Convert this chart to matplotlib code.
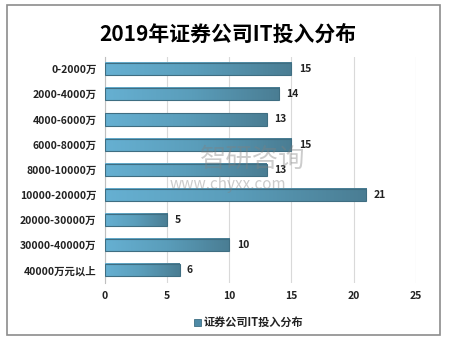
import matplotlib.pyplot as plt
import numpy as np
from matplotlib.patches import Rectangle
from matplotlib.colors import LinearSegmentedColormap

plt.rcParams['font.family'] = ['Noto Sans CJK SC', 'DejaVu Sans']

categories = ['0-2000万', '2000-4000万', '4000-6000万', '6000-8000万', '8000-10000万',
              '10000-20000万', '20000-30000万', '30000-40000万', '40000万元以上']
values = [15, 14, 13, 15, 13, 21, 5, 10, 6]
xticks = [0, 5, 10, 15, 20, 25]

fig = plt.figure(figsize=(4.56, 3.43), dpi=100)
fig.patches.append(Rectangle((7 / 456, 8 / 343), 433 / 456, 330 / 343, transform=fig.transFigure,
                             fill=False, edgecolor='#8c8c8c', linewidth=1.2))
ax = fig.add_axes([0.230, 0.175, 0.682, 0.66])

cmap = LinearSegmentedColormap.from_list('bar', ['#66b0d2', '#5a9dba', '#4a7d93'])
grad = np.linspace(0, 1, 256).reshape(1, -1)
h = 0.48
y = np.arange(len(categories))
for yi, v in zip(y, values):
    ax.imshow(grad, cmap=cmap, aspect='auto', extent=(0, v, yi + h / 2, yi - h / 2), zorder=3)
    ax.add_patch(Rectangle((0, yi - h / 2), v, h, fill=False, edgecolor='#3f6e82', linewidth=0.8, zorder=4))
    ax.text(v + 0.6, yi, str(v), va='center', ha='left', fontsize=7.5, fontweight='bold', color='#222222')

ax.set_xlim(0, 25)
ax.set_ylim(len(categories) - 0.5, -0.5)
ax.set_yticks(y)
ax.set_yticklabels(categories, fontsize=7.5, fontweight='bold', color='#222222')
ax.set_xticks(xticks)
ax.set_xticklabels([str(t) for t in xticks], fontsize=7.5, fontweight='bold', color='#222222')
ax.tick_params(length=0, pad=6)
ax.grid(axis='x', color='#d9d9d9', linewidth=0.8, zorder=0)
for s in ['top', 'right', 'bottom']:
    ax.spines[s].set_visible(False)
ax.spines['left'].set_color('#bfbfbf')

fig.text(0.5, 0.90, '2019年证券公司IT投入分布', ha='center', va='center', fontsize=15, fontweight='bold')

# watermark
fig.text(0.555, 0.535, '智研咨询', ha='center', va='center', fontsize=19, color='#808080', alpha=0.4)
fig.text(0.500, 0.462, 'www.chyxx.com', ha='center', va='center', fontsize=11, color='#808080', alpha=0.4)

# legend
fig.patches.append(Rectangle((0.425, 0.050), 0.015, 0.02, transform=fig.transFigure,
                             facecolor='#4f8aa6', edgecolor='#3f6e82', linewidth=0.6))
fig.text(0.447, 0.060, '证券公司IT投入分布', ha='left', va='center', fontsize=8, fontweight='bold', color='#222222')

fig.savefig('out.png', dpi=100)
